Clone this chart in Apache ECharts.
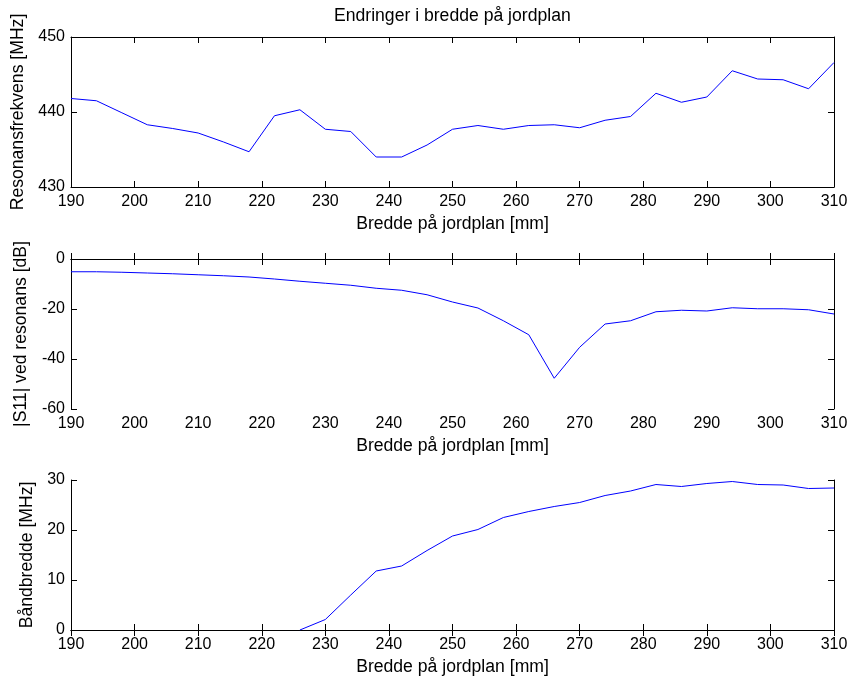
<!DOCTYPE html>
<html>
<head>
<meta charset="utf-8">
<script src="https://cdn.jsdelivr.net/npm/echarts@6/dist/echarts.min.js"></script>
<style>
  html, body { margin: 0; padding: 0; background: #fff; }
  #chart { width: 851px; height: 677px; }
</style>
</head>
<body>
<div id="chart"></div>
<script>
// Ground plane width [mm]
const widths = [190, 194, 198, 202, 206, 210, 214, 218, 222, 226, 230, 234, 238, 242, 246,
                250, 254, 258, 262, 266, 270, 274, 278, 282, 286, 290, 294, 298, 302, 306, 310];

// Resonance frequency [MHz]
const resonance = [441.8, 441.5, 439.9, 438.3, 437.8, 437.2, 436.0, 434.7, 439.5, 440.3, 437.7,
                   437.4, 434.0, 434.0, 435.6, 437.7, 438.2, 437.7, 438.2, 438.3, 437.9, 438.9,
                   439.4, 442.5, 441.3, 442.0, 445.5, 444.4, 444.3, 443.1, 446.6];

// |S11| at resonance [dB]
const s11 = [-5.1, -5.1, -5.3, -5.6, -5.9, -6.3, -6.7, -7.2, -8.0, -8.9, -9.7, -10.5, -11.7,
             -12.5, -14.3, -17.2, -19.6, -24.7, -30.3, -47.7, -35.3, -26.0, -24.7, -21.1,
             -20.5, -20.8, -19.5, -19.9, -19.9, -20.3, -22.0];

// Bandwidth [MHz] (no bandwidth below 226 mm)
const bandwidth = [null, null, null, null, null, null, null, null, null, 0, 2.1, 7.0, 11.8, 12.8,
                   15.9, 18.8, 20.1, 22.5, 23.7, 24.7, 25.5, 26.9, 27.8, 29.1, 28.7, 29.3, 29.7,
                   29.1, 29.0, 28.3, 28.4];

const titleText = 'Endringer i bredde på jordplan';
const xName = 'Bredde på jordplan [mm]';
const yNames = ['Resonansfrekvens [MHz]', '|S11| ved resonans [dB]', 'Båndbredde [MHz]'];
const yRanges = [[430, 450, 10], [-60, 0, 20], [0, 30, 10]];

const FONT = '"Liberation Sans", Arial, sans-serif';
const tops = [37, 259, 480];
const yNameGaps = [41, 41, 31];

const grids = tops.map(t => ({ left: 71, right: 17, top: t, height: 150, containLabel: false }));

const axisLine = { show: true, lineStyle: { color: '#000', width: 1 } };
const tick = { show: true, inside: true, length: 6, lineStyle: { color: '#000', width: 1 } };

const xAxes = [];
const yAxes = [];
tops.forEach((t, i) => {
  xAxes.push({
    type: 'value', gridIndex: i, min: 190, max: 310, interval: 10,
    position: 'bottom',
    name: xName, nameLocation: 'middle', nameGap: 28,
    nameTextStyle: { fontFamily: FONT, fontSize: 17.6, color: '#000' },
    axisLine, axisTick: tick,
    axisLabel: { margin: 7, fontFamily: FONT, fontSize: 16, color: '#000' },
    splitLine: { show: false }
  });
  xAxes.push({
    type: 'value', gridIndex: i, min: 190, max: 310, interval: 10,
    position: 'top',
    axisLine, axisTick: tick, axisLabel: { show: false }, splitLine: { show: false }
  });
  const [mn, mx, iv] = yRanges[i];
  yAxes.push({
    type: 'value', gridIndex: i, min: mn, max: mx, interval: iv,
    position: 'left',
    name: yNames[i], nameLocation: 'middle', nameGap: yNameGaps[i],
    nameTextStyle: { fontFamily: FONT, fontSize: 17.6, color: '#000' },
    axisLine, axisTick: tick,
    axisLabel: { margin: 6, fontFamily: FONT, fontSize: 16, color: '#000' },
    splitLine: { show: false }
  });
  yAxes.push({
    type: 'value', gridIndex: i, min: mn, max: mx, interval: iv,
    position: 'right',
    axisLine, axisTick: tick, axisLabel: { show: false }, splitLine: { show: false }
  });
});

const pairs = vals => widths.map((w, k) => [w, vals[k]]);
const lineSeries = (vals, i) => ({
  type: 'line', xAxisIndex: i * 2, yAxisIndex: i * 2,
  data: pairs(vals), showSymbol: false, symbol: 'none',
  connectNulls: false,
  lineStyle: { color: '#0000ff', width: 1 },
  itemStyle: { color: '#0000ff' }
});

const chart = echarts.init(document.getElementById('chart'), null, { renderer: 'canvas' });
chart.setOption({
  animation: false,
  backgroundColor: '#fff',
  graphic: [{
    type: 'text', left: 455 - 121, top: 7,
    style: { text: titleText, fontFamily: FONT, fontSize: 17.6, fill: '#000' }
  }],
  grid: grids,
  xAxis: xAxes,
  yAxis: yAxes,
  series: [lineSeries(resonance, 0), lineSeries(s11, 1), lineSeries(bandwidth, 2)]
});
</script>
</body>
</html>
